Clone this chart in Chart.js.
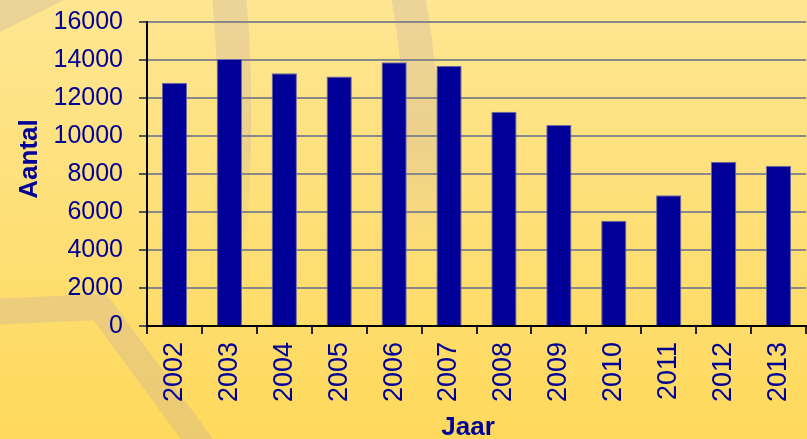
<!DOCTYPE html>
<html>
<head>
<meta charset="utf-8">
<script src="https://cdn.jsdelivr.net/npm/chart.js@4.4.1/dist/chart.umd.min.js"></script>
<style>
  html, body { margin: 0; padding: 0; background: #fedf78; }
  canvas { display: block; }
</style>
</head>
<body>
<canvas id="myChart" width="807" height="439"></canvas>
<script>
const years = ['2002', '2003', '2004', '2005', '2006', '2007', '2008', '2009', '2010', '2011', '2012', '2013'];
const aantal = [12800, 14050, 13300, 13130, 13880, 13700, 11280, 10580, 5540, 6880, 8650, 8440];
const yMin = 0;
const yMax = 16000;
const yStep = 2000;

const navy = '#000099';

// yellow gradient with the faint swirl behind the chart
const background = {
    id: 'background',
    beforeDraw(chart) {
        const { ctx, width, height } = chart;
        ctx.save();
        const g = ctx.createLinearGradient(0, 0, 0, height);
        g.addColorStop(0, '#fee692');
        g.addColorStop(1, '#fed95c');
        ctx.fillStyle = g;
        ctx.fillRect(0, 0, width, height);

        const tan = 'rgba(190, 165, 170, 0.28)';
        ctx.strokeStyle = tan;
        ctx.fillStyle = tan;
        ctx.lineJoin = 'round';

        // corner
        ctx.beginPath();
        ctx.moveTo(0, 0);
        ctx.lineTo(64, 0);
        ctx.lineTo(0, 32);
        ctx.closePath();
        ctx.fill();

        // lower left chevron
        ctx.lineWidth = 26;
        ctx.beginPath();
        ctx.moveTo(-10, 312);
        ctx.lineTo(100, 307);
        ctx.lineTo(205, 450);
        ctx.stroke();

        // two strokes from the top, fading out downwards
        const fade = ctx.createLinearGradient(0, 0, 0, 260);
        fade.addColorStop(0, tan);
        fade.addColorStop(0.55, tan);
        fade.addColorStop(1, 'rgba(190, 165, 170, 0)');
        ctx.strokeStyle = fade;
        ctx.lineWidth = 34;
        ctx.beginPath();
        ctx.moveTo(229, -5);
        ctx.quadraticCurveTo(240, 110, 228, 260);
        ctx.stroke();

        ctx.beginPath();
        ctx.moveTo(408, -5);
        ctx.quadraticCurveTo(430, 120, 420, 260);
        ctx.stroke();
        ctx.restore();
    }
};

const axisTitles = {
    id: 'axisTitles',
    afterDraw(chart) {
        const { ctx } = chart;
        ctx.save();
        ctx.fillStyle = navy;
        ctx.font = 'bold 26px "Liberation Sans", Arial, sans-serif';
        ctx.textAlign = 'center';
        ctx.textBaseline = 'middle';
        ctx.fillText('Jaar', 468, 428);
        ctx.translate(30, 159);
        ctx.rotate(-Math.PI / 2);
        ctx.fillText('Aantal', 0, 0);
        ctx.restore();
    }
};

const ctx = document.getElementById('myChart').getContext('2d');

const chart = new Chart(ctx, {
    type: 'bar',
    data: {
        labels: years,
        datasets: [
            {
                data: aantal,
                backgroundColor: navy,
                borderColor: '#6b6ba8',
                borderWidth: 1,
                categoryPercentage: 1,
                barPercentage: 0.46
            }
        ]
    },
    options: {
        responsive: false,
        devicePixelRatio: 1,
        animation: false,
        layout: {
            padding: { top: 22, right: 1, left: 0, bottom: 0 }
        },
        scales: {
            x: {
                afterFit(scale) {
                    scale.height = 113;
                    scale.paddingLeft = 0;
                    scale.paddingRight = 0;
                },
                grid: {
                    offset: true,
                    color: (c) => c.index === years.length ? '#888888' : 'rgba(0,0,0,0)',
                    lineWidth: 2,
                    tickColor: '#222',
                    tickLength: 8
                },
                border: { color: '#000', width: 2 },
                ticks: {
                    color: navy,
                    font: { family: '"Liberation Sans", Arial, sans-serif', size: 27 },
                    minRotation: 90,
                    maxRotation: 90,
                    autoSkip: false,
                    padding: 8
                }
            },
            y: {
                min: yMin,
                max: yMax,
                afterFit(scale) {
                    scale.width = 147;
                    scale.paddingTop = 0;
                    scale.paddingBottom = 0;
                },
                grid: {
                    color: '#888888',
                    lineWidth: 2,
                    tickColor: '#555',
                    tickLength: 8
                },
                border: { color: '#000', width: 2 },
                ticks: {
                    stepSize: yStep,
                    color: navy,
                    font: { family: '"Liberation Sans", Arial, sans-serif', size: 25 },
                    padding: 16,
                    callback: (v) => String(v)
                }
            }
        },
        plugins: {
            legend: { display: false },
            tooltip: { enabled: false }
        }
    },
    plugins: [background, axisTitles]
});
</script>
</body>
</html>
